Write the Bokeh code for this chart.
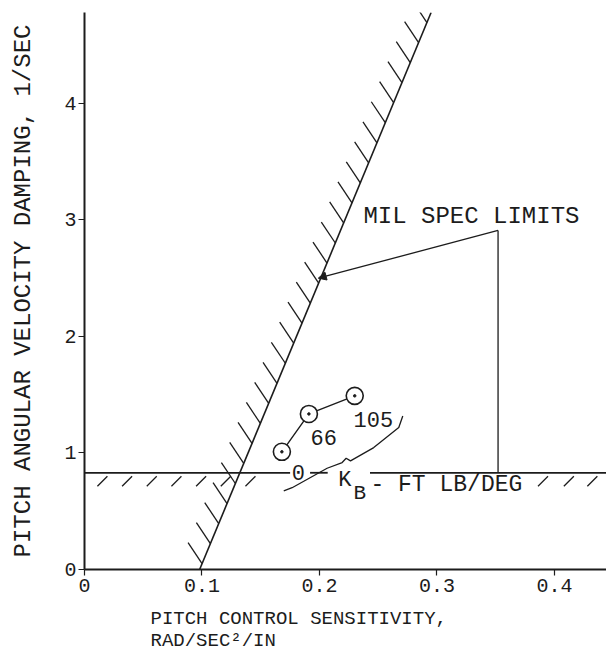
import numpy as np
from bokeh.plotting import figure
from bokeh.models import Range1d, Label, Arrow, NormalHead, Title
from bokeh.embed import file_html
from bokeh.resources import INLINE

# ---- data ----
kb_labels = ["0", "66", "105"]                 # K_B, FT LB/DEG
sensitivity = [0.168, 0.191, 0.230]            # RAD/SEC^2/IN
damping = [1.01, 1.335, 1.49]                  # 1/SEC

# MIL spec limits
limit_sens = [0.098, 0.295]                    # sloped limit line (x)
limit_damp = [0.0, 4.78]                       # sloped limit line (y)
min_damping = 0.83                             # horizontal limit

x_ticks = [0, 0.1, 0.2, 0.3, 0.4]
x_tick_labels = ["0", "0.1", "0.2", "0.3", "0.4"]
y_ticks = [0, 1, 2, 3, 4]
x_max = 0.4443

# annotation geometry (callout / brace)
callout_top = (0.352, 2.91)
arrow_tip = (0.199, 2.50)
brace_x = [0.1696, 0.1767, 0.2065, 0.2193, 0.2227, 0.2264, 0.2462, 0.2675, 0.2709]
brace_y = [0.674, 0.702, 0.869, 0.918, 0.955, 0.932, 1.046, 1.218, 1.318]
hline_segments = [(0.0, 0.175), (0.192, 0.207), (0.243, x_max)]
hatch_left_x = [0.011, 0.032, 0.053, 0.074, 0.095, 0.116, 0.137]
hatch_right_x = [0.386, 0.408, 0.428]

INK = "#1c1c1c"
FONT = "Liberation Mono"

p = figure(width=606, height=662, x_range=Range1d(0, x_max), y_range=Range1d(0, 4.78),
           output_backend="svg", toolbar_location=None,
           min_border_left=84, min_border_right=0, min_border_top=12, min_border_bottom=93)
p.grid.visible = False
p.outline_line_color = None
p.background_fill_color = "white"

for ax in (p.xaxis[0], p.yaxis[0]):
    ax.axis_line_width = 2
    ax.axis_line_color = INK
    ax.major_tick_line_color = INK
    ax.major_tick_line_width = 1.2
    ax.major_tick_out = 6
    ax.major_tick_in = 0
    ax.minor_tick_line_color = None
    ax.major_label_text_font = FONT
    ax.major_label_text_font_size = "20px"
    ax.major_label_text_color = INK

p.xaxis.ticker = x_ticks
p.xaxis.major_label_overrides = {t: s for t, s in zip(x_ticks, x_tick_labels)}
p.xaxis.major_label_standoff = 3
p.yaxis.ticker = y_ticks
p.yaxis.major_label_standoff = 2
p.yaxis.axis_label = "PITCH ANGULAR VELOCITY DAMPING, 1/SEC"
p.yaxis.axis_label_text_font = FONT
p.yaxis.axis_label_text_font_size = "24px"
p.yaxis.axis_label_text_font_style = "normal"
p.yaxis.axis_label_text_color = INK
p.yaxis.axis_label_standoff = 24

# x axis title (two left-aligned lines) as a title below the axis
xt = Title(text="PITCH CONTROL SENSITIVITY,\nRAD/SEC\u00b2/IN", align="left", offset=66,
           text_font=FONT, text_font_size="19px", text_font_style="normal",
           text_color=INK, text_line_height=1.0, standoff=22)
p.add_layout(xt, "below")

# sloped MIL spec limit line with hatching on the upper-left side
p.line(limit_sens, limit_damp, line_color=INK, line_width=1.6)
slope = (limit_damp[1] - limit_damp[0]) / (limit_sens[1] - limit_sens[0])
hy = np.arange(0.05, 4.75, 0.172)
hx = limit_sens[0] + (hy - limit_damp[0]) / slope
p.segment(x0=hx, y0=hy, x1=hx - 0.0119, y1=hy + 0.18, line_color=INK, line_width=1.3)

# horizontal minimum damping limit with hatching below
for a, b in hline_segments:
    p.line([a, b], [min_damping, min_damping], line_color=INK, line_width=1.8)
hxs = np.array(hatch_left_x + hatch_right_x)
p.segment(x0=hxs, y0=min_damping - 0.115, x1=hxs + 0.0085, y1=min_damping - 0.03,
          line_color=INK, line_width=1.3)

# callout
p.segment(x0=[callout_top[0]], y0=[callout_top[1]], x1=[callout_top[0]], y1=[min_damping],
          line_color=INK, line_width=1.3)
p.add_layout(Arrow(end=NormalHead(size=8, fill_color=INK, line_color=INK, line_width=1),
                   x_start=callout_top[0], y_start=callout_top[1],
                   x_end=arrow_tip[0], y_end=arrow_tip[1],
                   line_color=INK, line_width=1.3))
p.add_layout(Label(x=0.2374, y=3.026, text="MIL SPEC LIMITS", text_font=FONT,
                   text_font_size="24px", text_color=INK, text_baseline="middle"))

# data points
p.line(sensitivity, damping, line_color=INK, line_width=1.4)
p.scatter(sensitivity, damping, marker="circle", size=17, fill_color="white",
          line_color=INK, line_width=1.6)
p.scatter(sensitivity, damping, marker="circle", size=2.5, fill_color=INK, line_color=INK)

# point labels
p.add_layout(Label(x=0.182, y=0.83, text=kb_labels[0], text_font=FONT, text_font_size="22px",
                   text_color=INK, text_align="center", text_baseline="middle"))
p.add_layout(Label(x=0.1923, y=1.137, text=kb_labels[1], text_font=FONT, text_font_size="22px",
                   text_color=INK, text_baseline="middle"))
p.add_layout(Label(x=0.229, y=1.283, text=kb_labels[2], text_font=FONT, text_font_size="22px",
                   text_color=INK, text_baseline="middle"))

# brace and K_B legend
p.line(brace_x, brace_y, line_color=INK, line_width=1.3)
p.add_layout(Label(x=0.216, y=0.76, text="K", text_font=FONT, text_font_size="22px",
                   text_color=INK, text_baseline="middle"))
p.add_layout(Label(x=0.229, y=0.655, text="B", text_font=FONT, text_font_size="21px",
                   text_color=INK, text_baseline="middle"))
p.add_layout(Label(x=0.2434, y=0.725, text="- FT LB/DEG", text_font=FONT, text_font_size="23px",
                   text_color=INK, text_baseline="middle"))

open("out.html", "w").write(file_html(p, INLINE))
